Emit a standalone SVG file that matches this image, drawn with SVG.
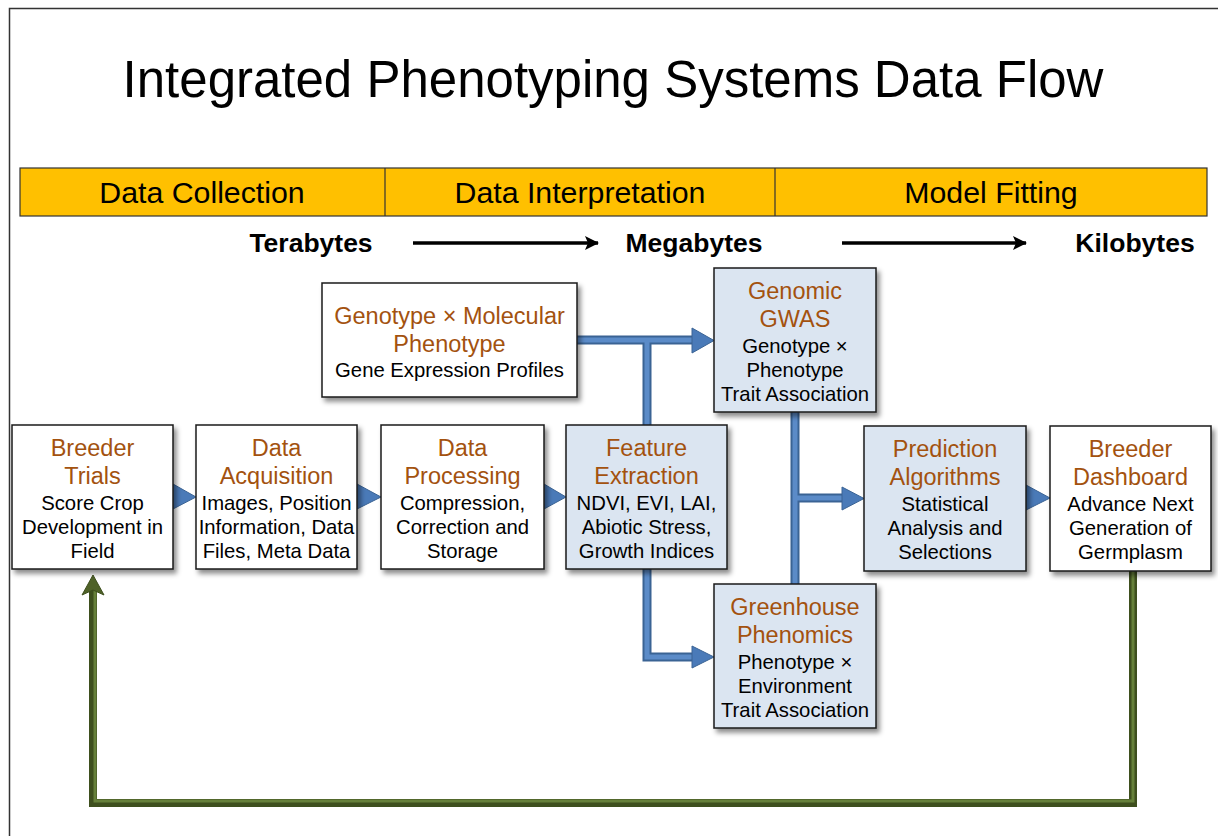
<svg xmlns="http://www.w3.org/2000/svg" width="1218" height="836" viewBox="0 0 1218 836">
<defs>
<style>
.t{font-family:"Liberation Sans",Arial,sans-serif;text-anchor:middle}
.h{font-size:23.5px;fill:#A3520F}
.s{font-size:20.3px;fill:#000}
.bar{font-size:30.3px;fill:#000}
.sz{font-size:26.5px;font-weight:bold;fill:#000}
.box{stroke:#1a1a1a;stroke-width:1.5}
.w{fill:#fff}
.b{fill:#DBE5F1}
.bl{fill:none;stroke:#3A6394;stroke-width:9}
.bli{fill:none;stroke:#5B8BC8;stroke-width:5}
.ah{fill:#4A7AB8;stroke:#3A6394;stroke-width:1}
.gl{fill:none;stroke:#3E4F1E;stroke-width:8}
.gli{fill:none;stroke:#66803A;stroke-width:3}
</style>
<filter id="sh" x="-10%" y="-10%" width="130%" height="130%">
<feDropShadow dx="3" dy="4" stdDeviation="2.5" flood-color="#000" flood-opacity="0.45"/>
</filter>
<marker id="ar" markerWidth="14" markerHeight="14" refX="13" refY="7" orient="auto" markerUnits="userSpaceOnUse">
<path d="M0,0 L14,7 L0,14 L3,7 z" fill="#000"/>
</marker>
</defs>
<rect width="1218" height="836" fill="#fff"/>
<path d="M9.5,836 V8.5 H1218" fill="none" stroke="#333" stroke-width="1.5"/>
<text class="t" x="613" y="97" style="font-size:51px;fill:#000">Integrated Phenotyping Systems Data Flow</text>
<g id="bar">
<rect x="20" y="168" width="1187" height="48" fill="#FFC000" stroke="#333" stroke-width="1.2"/>
<line x1="385" y1="168" x2="385" y2="216" stroke="#333" stroke-width="1.2"/>
<line x1="775" y1="168" x2="775" y2="216" stroke="#333" stroke-width="1.2"/>
<text class="t bar" x="202" y="203">Data Collection</text>
<text class="t bar" x="580" y="203">Data Interpretation</text>
<text class="t bar" x="991" y="203">Model Fitting</text>
</g>
<g id="sizes">
<text class="t sz" x="311" y="252">Terabytes</text>
<text class="t sz" x="694" y="252">Megabytes</text>
<text class="t sz" x="1135" y="252">Kilobytes</text>
<line x1="413" y1="243" x2="598" y2="243" stroke="#000" stroke-width="3.5" marker-end="url(#ar)"/>
<line x1="842" y1="243" x2="1026" y2="243" stroke="#000" stroke-width="3.5" marker-end="url(#ar)"/>
</g>
<g id="connectors">
<path class="gl" d="M1133,571 V803 H93 V590"/>
<path class="gli" d="M1133,571 V801 H95 V590"/>
<path d="M93,575 L104,595 L93,590 L82,595 z" fill="#4F6228" stroke="#3E4F1E" stroke-width="1"/>
<path class="bl" d="M577,340 H694 M647,340 V425"/>
<path class="bli" d="M577,340 H694 M647,340 V425"/>
<path class="ah" d="M692,328 L714,340.5 L692,353 z"/>
<path class="bl" d="M647,569 V657 H694"/>
<path class="bli" d="M647,569 V657 H694"/>
<path class="ah" d="M692,646 L714,657 L692,668 z"/>
<path class="bl" d="M795,412 V584 M795,498 H844"/>
<path class="bli" d="M795,412 V584 M795,498 H844"/>
<path class="ah" d="M842,487 L864,498.5 L842,510 z"/>
<path class="ah" d="M173,484 L196,497 L173,509 z"/>
<path class="ah" d="M357,484 L381,497 L357,509 z"/>
<path class="ah" d="M544,484 L566,497 L544,509 z"/>
<path class="ah" d="M1026,485 L1050,498 L1026,510 z"/>
</g>
<g id="n1"><rect class="box w" x="12" y="425" width="161" height="144" filter="url(#sh)"/>
<text class="t h" x="92.5" y="456">Breeder</text><text class="t h" x="92.5" y="484">Trials</text>
<text class="t s" x="92.5" y="510">Score Crop</text><text class="t s" x="92.5" y="534">Development in</text><text class="t s" x="92.5" y="558">Field</text></g>
<g id="n2"><rect class="box w" x="196" y="425" width="161" height="144" filter="url(#sh)"/>
<text class="t h" x="276.5" y="456">Data</text><text class="t h" x="276.5" y="484">Acquisition</text>
<text class="t s" x="276.5" y="510">Images, Position</text><text class="t s" x="276.5" y="534">Information, Data</text><text class="t s" x="276.5" y="558">Files, Meta Data</text></g>
<g id="n3"><rect class="box w" x="381" y="425" width="163" height="144" filter="url(#sh)"/>
<text class="t h" x="462.5" y="456">Data</text><text class="t h" x="462.5" y="484">Processing</text>
<text class="t s" x="462.5" y="510">Compression,</text><text class="t s" x="462.5" y="534">Correction and</text><text class="t s" x="462.5" y="558">Storage</text></g>
<g id="n4"><rect class="box b" x="566" y="425" width="161" height="144" filter="url(#sh)"/>
<text class="t h" x="646.5" y="456">Feature</text><text class="t h" x="646.5" y="484">Extraction</text>
<text class="t s" x="646.5" y="510">NDVI, EVI, LAI,</text><text class="t s" x="646.5" y="534">Abiotic Stress,</text><text class="t s" x="646.5" y="558">Growth Indices</text></g>
<g id="n5"><rect class="box w" x="322" y="283" width="255" height="114" filter="url(#sh)"/>
<text class="t h" x="449.5" y="324">Genotype × Molecular</text><text class="t h" x="449.5" y="352">Phenotype</text>
<text class="t s" x="449.5" y="377">Gene Expression Profiles</text></g>
<g id="n6"><rect class="box b" x="714" y="268" width="162" height="144" filter="url(#sh)"/>
<text class="t h" x="795" y="299">Genomic</text><text class="t h" x="795" y="327">GWAS</text>
<text class="t s" x="795" y="353">Genotype ×</text><text class="t s" x="795" y="377">Phenotype</text><text class="t s" x="795" y="401">Trait Association</text></g>
<g id="n7"><rect class="box b" x="714" y="584" width="162" height="144" filter="url(#sh)"/>
<text class="t h" x="795" y="615">Greenhouse</text><text class="t h" x="795" y="643">Phenomics</text>
<text class="t s" x="795" y="669">Phenotype ×</text><text class="t s" x="795" y="693">Environment</text><text class="t s" x="795" y="717">Trait Association</text></g>
<g id="n8"><rect class="box b" x="864" y="426" width="162" height="145" filter="url(#sh)"/>
<text class="t h" x="945" y="457">Prediction</text><text class="t h" x="945" y="485">Algorithms</text>
<text class="t s" x="945" y="511">Statistical</text><text class="t s" x="945" y="535">Analysis and</text><text class="t s" x="945" y="559">Selections</text></g>
<g id="n9"><rect class="box w" x="1050" y="426" width="161" height="145" filter="url(#sh)"/>
<text class="t h" x="1130.5" y="457">Breeder</text><text class="t h" x="1130.5" y="485">Dashboard</text>
<text class="t s" x="1130.5" y="511">Advance Next</text><text class="t s" x="1130.5" y="535">Generation of</text><text class="t s" x="1130.5" y="559">Germplasm</text></g>
</svg>
